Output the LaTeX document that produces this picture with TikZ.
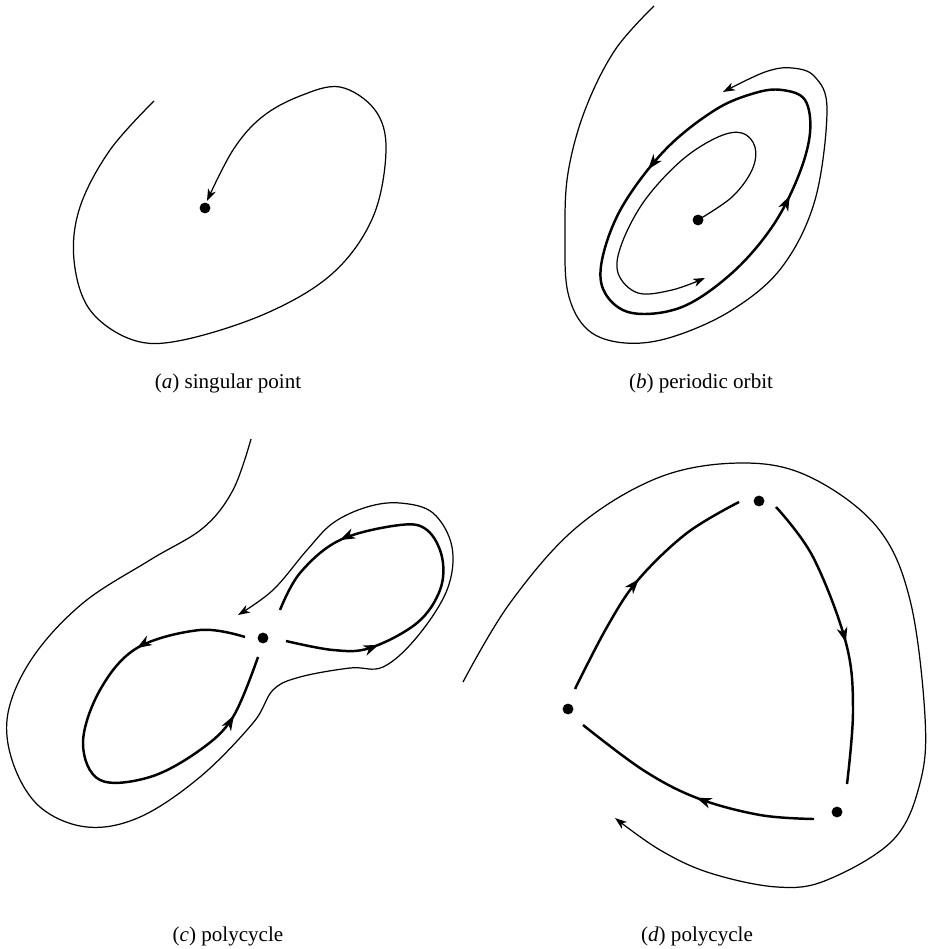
\documentclass[tikz,border=0pt]{standalone}
\usepackage{fontspec}
\setmainfont{Liberation Serif}
\usetikzlibrary{arrows.meta, decorations.markings}

\tikzset{
    bigtip/.tip={Stealth[length=8.5pt, width=6pt, inset=2.5pt]},
    smalltip/.tip={Stealth[length=6.8pt, width=4.8pt, inset=2pt]}
}

\begin{document}
\begin{tikzpicture}[
    x=0.02cm, y=-0.02cm,
    >=smalltip,
    flow/.style={line width=0.7pt, line join=round},
    orbit/.style={line width=1.4pt, line join=round},
    dot/.style={circle, fill, inner sep=0pt, minimum size=6.2pt},
    caption/.style={font=\fontsize{12pt}{14pt}\selectfont},
    onetip/.style={postaction={decorate},
        decoration={markings, mark=at position #1 with {\arrow{bigtip}}}},
    twotips/.style 2 args={postaction={decorate},
        decoration={markings, mark=at position #1 with {\arrow{bigtip}},
            mark=at position #2 with {\arrow{bigtip}}}}
]
\useasboundingbox (0,0) rectangle (931,949);

% (a) singular point
\node[dot] (sa) at (205,208) {};
\draw[flow, ->] plot[smooth, tension=0.6] coordinates {(154,101) (110,150) (80,207) (74,260)
    (90,310) (133,340) (183,340) (267,313) (333,273) (373,217) (386,150) (375,110)
    (340,87) (300,96) (262,117) (233,150) (207,201)};
\node[caption] (capa) at (228,383) {(\textit{a}) singular point};

% (b) periodic orbit
\node[dot] (sb) at (698,220) {};
\draw[flow, ->] plot[smooth, tension=0.6] coordinates {(654,6) (615,50) (585,110) (568,173)
    (565,233) (568,293) (588,330) (625,343) (672,337) (732,310) (782,267) (815,200)
    (827,110) (815,77) (792,68) (765,72) (723,92)};
\draw[orbit, twotips={0.20}{0.77}] plot[smooth cycle, tension=0.6] coordinates {(782,90)
    (755,93) (715,110) (665,150) (622,207) (602,260) (605,293) (632,313) (682,307)
    (732,273) (772,227) (798,177) (810,133) (805,100)};
\draw[flow, ->] plot[smooth, tension=0.6] coordinates {(sb.center) (732,197) (752,170)
    (755,147) (742,133) (718,137) (682,160) (645,200) (622,243) (618,273) (638,293)
    (672,290) (705,278)};
\node[caption] (capb) at (701,383) {(\textit{b}) periodic orbit};

% (c) polycycle
\node[dot] (sc) at (263,638) {};
\draw[flow, ->] plot[smooth, tension=0.6] coordinates {(251,439) (233,490) (203,528)
    (150,560) (83,603) (33,657) (8,713) (13,763) (40,807) (87,827) (140,817) (200,777)
    (253,723) (273,690) (300,677) (350,668) (383,667) (417,637) (447,590) (452,547)
    (433,513) (400,503) (367,507) (333,523) (307,550) (273,590) (238,615)};
\draw[orbit, twotips={0.23}{0.87}] plot[smooth, tension=0.6] coordinates {(245,637)
    (200,630) (137,648) (100,690) (83,743) (100,780) (150,777) (200,750) (233,717)
    (258,657)};
\draw[orbit, twotips={0.22}{0.78}] plot[smooth, tension=0.6] coordinates {(286,641)
    (333,650) (370,648) (417,623) (440,590) (442,557) (427,530) (400,525) (340,540)
    (300,573) (280,610)};
\node[caption] (capc) at (228,936) {(\textit{c}) polycycle};

% (d) polycycle
\node[dot] (dl) at (568,709) {};
\node[dot] (dt) at (759,501) {};
\node[dot] (dr) at (837,812) {};
\draw[flow, ->] plot[smooth, tension=0.6] coordinates {(463,682) (510,603) (577,527)
    (660,477) (743,463) (810,477) (877,527) (910,600) (925,717) (920,783) (893,840)
    (827,880) (777,887) (710,873) (660,850) (615,818)};
\draw[orbit, onetip=0.5] plot[smooth, tension=0.6] coordinates {(575,689) (607,627)
    (638,580) (687,533) (739,502)};
\draw[orbit, onetip=0.52] plot[smooth, tension=0.6] coordinates {(776,507) (813,557)
    (846,643) (853,710) (847,784)};
\draw[orbit, onetip=0.47] plot[smooth, tension=0.6] coordinates {(814,819) (760,815)
    (697,798) (643,770) (583,725)};
\node[caption] (capd) at (697,936) {(\textit{d}) polycycle};

\end{tikzpicture}
\end{document}
